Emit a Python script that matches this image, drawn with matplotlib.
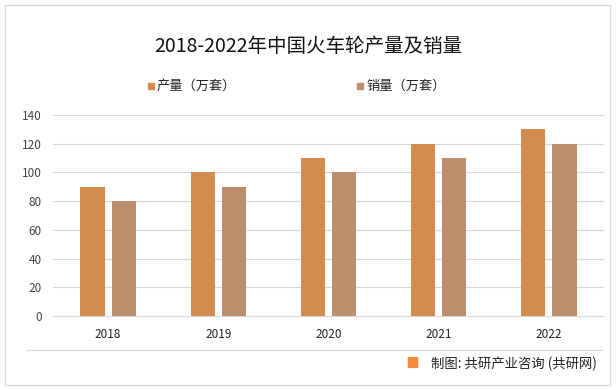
import numpy as np
import matplotlib
matplotlib.use('Agg')
import matplotlib.pyplot as plt
from matplotlib.patches import Rectangle, FancyBboxPatch
from matplotlib.lines import Line2D

plt.rcParams['font.family'] = ['Noto Sans CJK SC', 'DejaVu Sans']

# ── 数据 ──────────────────────────────────────────
years = ['2018', '2019', '2020', '2021', '2022']
production = [90, 100, 110, 120, 130]   # 产量（万套）
sales = [80, 90, 100, 110, 120]         # 销量（万套）

C_PROD = '#D48B4E'
C_SALE = '#BC8E6D'

fig = plt.figure(figsize=(6.16, 3.90), dpi=100)
fig.patch.set_facecolor('white')

# outer frame
fig.add_artist(Rectangle((5 / 616, 5 / 390), 605 / 616, 380 / 390,
                         transform=fig.transFigure, fill=False,
                         edgecolor='#D9D9D9', linewidth=1))

ax = fig.add_axes([53 / 616, 1 - 316 / 390, 551 / 616, 201 / 390])
x = np.arange(len(years))
w = 0.22
off = 0.142
ax.bar(x - off, production, width=w, color=C_PROD, label='产量（万套）')
ax.bar(x + off, sales, width=w, color=C_SALE, label='销量（万套）')

ax.set_xlim(-0.5, len(years) - 0.5)
ax.set_ylim(0, 140)
ax.set_yticks(range(0, 141, 20))
ax.set_xticks(x)
ax.set_xticklabels(years, fontsize=8.5, color='#222222')
ax.tick_params(axis='y', labelsize=8.5, labelcolor='#444444', length=0, pad=8)
ax.tick_params(axis='x', length=0, pad=9)
ax.grid(axis='y', color='#D9D9D9', linewidth=0.8)
ax.set_axisbelow(True)
for s in ['top', 'right', 'left']:
    ax.spines[s].set_visible(False)
ax.spines['bottom'].set_color('#D9D9D9')

fig.text(0.5, 1 - 47 / 390, '2018-2022年中国火车轮产量及销量',
         ha='center', va='center', fontsize=14, color='#111111')

# legend
for lx, col, lab in [(148, C_PROD, '产量（万套）'), (357, C_SALE, '销量（万套）')]:
    fig.add_artist(Rectangle((lx / 616, 1 - 89 / 390), 6 / 616, 6 / 390,
                             transform=fig.transFigure, color=col))
    fig.text((lx + 9) / 616, 1 - 86 / 390, lab, ha='left', va='center',
             fontsize=9.5, color='#222222')

# footer
fig.add_artist(Line2D([27 / 616, 602 / 616], [1 - 350 / 390, 1 - 350 / 390],
                      transform=fig.transFigure, color='#D9D9D9', linewidth=0.8))
fig.add_artist(FancyBboxPatch((409 / 616, 1 - 367 / 390), 8 / 616, 9 / 390,
                              boxstyle='round,pad=0.001',
                              transform=fig.transFigure, color='#F08A3C'))
fig.text(431 / 616, 1 - 364 / 390, '制图: 共研产业咨询 (共研网)',
         ha='left', va='center', fontsize=9.6, color='#222222')

fig.savefig('out.png', dpi=100, facecolor='white')
